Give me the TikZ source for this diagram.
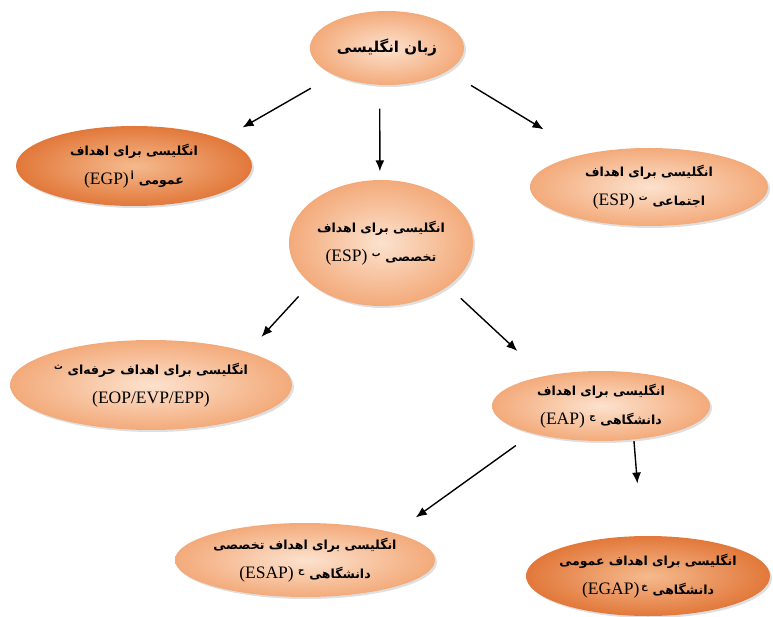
\documentclass[tikz,border=0pt]{standalone}
\usepackage{fontspec}
\setmainfont{Liberation Serif}
\newfontfamily\farsi[Script=Arabic]{DejaVu Sans}
\TeXXeTstate=1
\usetikzlibrary{arrows.meta,shapes,shadows}

\definecolor{peachin}{RGB}{252,226,206}
\definecolor{peachout}{RGB}{243,170,122}
\definecolor{rustin}{RGB}{245,186,142}
\definecolor{rustout}{RGB}{226,120,58}

\newcommand{\lat}[1]{{\rmfamily\mdseries\fontsize{17.5}{29}\selectfont #1}}

\begin{document}
\begin{tikzpicture}[x=1pt,y=-1pt,->,>={Latex[length=11pt,width=9pt]},line width=1.4pt,
                    blob/.style={ellipse, inner xsep=-25pt, inner ysep=-10pt, align=center,
                      font=\farsi\bfseries\fontsize{12.5}{29}\selectfont,
                      drop shadow={opacity=0.25,shadow xshift=2pt,shadow yshift=-2pt}},
                    pale/.style={blob, shading=radial, inner color=peachin, outer color=peachout},
                    deep/.style={blob, shading=radial, inner color=rustin, outer color=rustout}]

  \useasboundingbox (0,0) rectangle (773,617);

  \node [pale, minimum width=154pt, minimum height=74pt] (root) at (387,48)
    {\fontsize{15}{20}\selectfont\beginR زبان انگلیسی\endR};
  \node [deep, minimum width=236pt, minimum height=80pt] (egp) at (134,166)
    {\beginR انگلیسی برای اهداف\endR\\
     \lat{(EGP)}\,\textsuperscript{أ}\ \beginR عمومی\endR};
  \node [pale, minimum width=238pt, minimum height=78pt] (social) at (649,187)
    {\beginR انگلیسی برای اهداف\endR\\
     \lat{(ESP)}\ \textsuperscript{ت}\ \beginR اجتماعی\endR};
  \node [pale, minimum width=184pt, minimum height=126pt] (esp) at (381,243)
    {\beginR انگلیسی برای اهداف\endR\\
     \lat{(ESP)}\ \textsuperscript{ب}\ \beginR تخصصی\endR};
  \node [pale, minimum width=282pt, minimum height=90pt] (eop) at (151,385)
    {\textsuperscript{ث}\ \beginR انگلیسی برای اهداف حرفه^^^^200cای\endR\\
     \lat{(EOP/EVP/EPP)}};
  \node [pale, minimum width=218pt, minimum height=70pt] (eap) at (601,406)
    {\beginR انگلیسی برای اهداف\endR\\
     \lat{(EAP)}\ \textsuperscript{ج}\ \beginR دانشگاهی\endR};
  \node [pale, minimum width=260pt, minimum height=74pt] (esap) at (305,560)
    {\beginR انگلیسی برای اهداف تخصصی\endR\\
     \lat{(ESAP)}\ \textsuperscript{ح}\ \beginR دانشگاهی\endR};
  \node [deep, minimum width=244pt, minimum height=80pt] (egap) at (648,576)
    {\beginR انگلیسی برای اهداف عمومی\endR\\
     \lat{(EGAP)}\,\textsuperscript{خ}\ \beginR دانشگاهی\endR};

  \path (root.207) edge [shorten <=26pt, shorten >=23pt] (egp.17);
  \path (root.259) edge [shorten <=23pt, shorten >=8pt] (esp.91);
  \path (root.339) edge [shorten <=27pt, shorten >=47pt] (social.153);
  \path (esp.210) edge [shorten <=17pt, shorten >=20pt] (eop.19);
  \path (esp.327) edge [shorten <=17pt, shorten >=36pt] (eap.152);
  \path (eap.202) edge [shorten <=20pt, shorten >=26pt] (esap.17);
  \path (eap.314) edge [shorten <=1pt, shorten >=52pt] (egap.99);
\end{tikzpicture}
\end{document}
